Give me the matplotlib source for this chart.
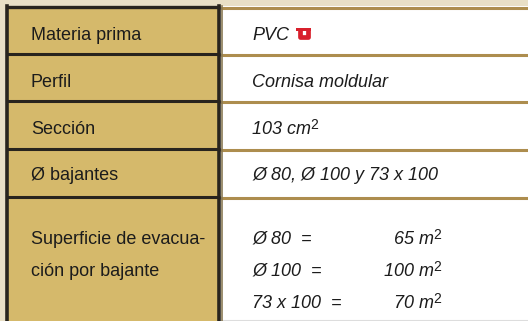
import matplotlib.pyplot as plt
from matplotlib.patches import Rectangle

labels = ["Materia prima", "Perfil", "Sección", "Ø bajantes",
          "Superficie de evacua-", "ción por bajante"]
values = ["PVC", "Cornisa moldular", "103 cm", "Ø 80, Ø 100 y 73 x 100"]
bajantes = ["Ø 80  =", "Ø 100  =", "73 x 100  ="]
superficie = [65, 100, 70]

row_edges = [7, 54, 101, 149, 197, 321]

bg = "#e8dfc6"
gold = "#d5b96b"
dark = "#28241e"
line_gold = "#ad8d4e"
txt = "#1c1c1c"

fig = plt.figure(figsize=(5.28, 3.21), dpi=100)
fig.patch.set_facecolor(bg)
ax = fig.add_axes([0, 0, 1, 1])
ax.set_xlim(0, 528)
ax.set_ylim(321, 0)
ax.axis("off")

# columns
ax.add_patch(Rectangle((6, 7), 214, 318, facecolor=gold, edgecolor="none"))
ax.add_patch(Rectangle((220, 6), 310, 318, facecolor="white", edgecolor="none"))

# right side lines
for y in row_edges[:-1]:
    ax.plot([220, 528], [y + 0.5, y + 0.5], color=line_gold, lw=2.2, solid_capstyle="butt")
ax.plot([220, 528], [320, 320], color="#dddddd", lw=0.8)

# left side borders
for y in row_edges[1:-1]:
    ax.plot([6, 220], [y, y], color=dark, lw=2.2, solid_capstyle="butt")
ax.plot([6, 220], [7, 7], color=dark, lw=2.4, solid_capstyle="butt")
ax.plot([7, 7], [6, 321], color=dark, lw=2.6)
ax.plot([219, 219], [6, 321], color=dark, lw=2.6)
ax.plot([221.5, 221.5], [6, 321], color="#8a7a55", lw=1.2)

font = "Liberation Sans"
fs = 13


def sup2(t):
    # small raised "2" glued to the end of a text
    ax.annotate("2", xy=(1, 0.5), xycoords=t, xytext=(-0.3, -1.5),
                textcoords="offset points", fontsize=10, family=font,
                color=txt, ha="left", va="bottom")


label_base = [40, 87, 134, 180, 244, 276]
for lab, yb in zip(labels, label_base):
    ax.text(31, yb, lab, fontsize=fs, family=font, color=txt,
            va="baseline", ha="left")

value_base = [40, 87, 134, 180]
for val, yb in zip(values, value_base):
    t = ax.text(252, yb, val, fontsize=fs, family=font, style="italic",
                color=txt, va="baseline", ha="left")
    if val.endswith("cm"):
        sup2(t)

# red PVC mark
red = "#d8202c"
ax.add_patch(Rectangle((296, 28), 15, 3.2, facecolor=red, edgecolor="none"))
ax.plot([299.5, 299.5, 307.5, 307.5], [31, 37, 37, 31], color=red, lw=3.4,
        solid_joinstyle="round")

ys = [244, 276, 308]
for name, sup, yb in zip(bajantes, superficie, ys):
    ax.text(252, yb, name, fontsize=fs, family=font, style="italic",
            color=txt, va="baseline", ha="left")
    t = ax.text(434, yb, f"{sup} m", fontsize=fs, family=font, style="italic",
                color=txt, va="baseline", ha="right")
    sup2(t)

fig.savefig("out.png", dpi=100, facecolor=bg)
